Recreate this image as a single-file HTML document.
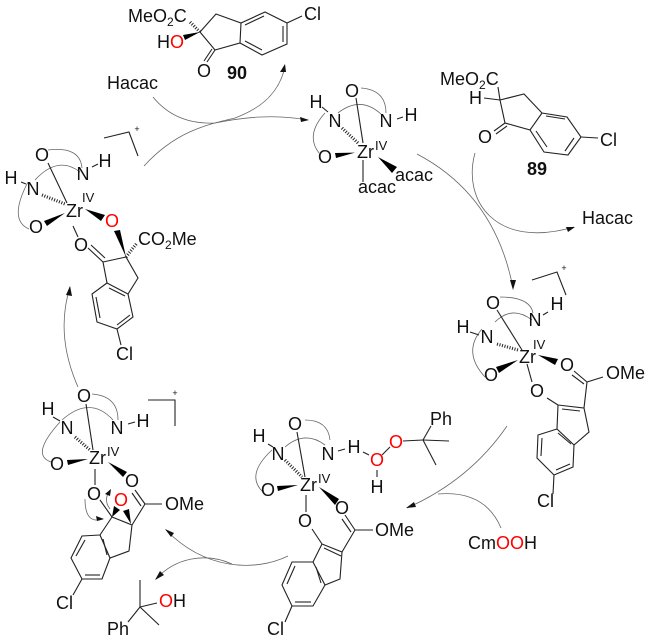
<!DOCTYPE html>
<html>
<head>
<meta charset="utf-8">
<style>
html,body{margin:0;padding:0;background:#fff}
svg{display:block}
text{font-family:"Liberation Sans",sans-serif;font-size:18px;fill:#111}
.m{text-anchor:middle}
.r{fill:#f00}
.b{font-weight:bold}
.s{font-size:12px}
.iv{font-size:13px}
.bd line,.bd polyline{stroke:#222;stroke-width:1.1;fill:none}
.bd line.h{stroke-width:3.2;stroke-dasharray:1 1.6}
.arc path{stroke:#666;stroke-width:.8;fill:none}
.ah{fill:#111;stroke:none}
</style>
</head>
<body>
<svg width="650" height="642" viewBox="0 0 650 642" xmlns="http://www.w3.org/2000/svg">

<!-- cycle arrows -->
<g class="arc">
<path d="M153,97 C170,118 193,124 215,123 C245,117 275,114 308,120"/>
<path d="M144,166 C175,132 205,125 235,118 C262,108 280,92 285,66"/>
<path d="M417,154 Q495,195 513,288"/>
<path d="M475,153 C462,200 495,250 574,227"/>
<path d="M507,426 Q470,480 407,508"/>
<path d="M501,528 Q485,490 438,494"/>
<path d="M288,556 C255,572 205,570 166,530"/>
<path d="M232,564 C205,552 175,558 156,579"/>
<path d="M78,387 Q55,335 70,287"/>
<!-- ligand arcs -->
<path d="M48,150 Q80,146 82,168"/>
<path d="M35,180 Q58,155 80,172"/>
<path d="M28,182 Q8,220 29,229"/>
<path d="M361,88 Q386,90 386,113"/>
<path d="M338,113 Q361,95 382,115"/>
<path d="M325,113 Q305,135 319,153"/>
<path d="M500,297 Q530,297 533,313"/>
<path d="M495,322 Q512,305 532,320"/>
<path d="M482,329 Q462,352 485,377"/>
<path d="M305,420 Q328,420 330,440"/>
<path d="M285,447 Q305,430 325,445"/>
<path d="M272,450 Q245,475 263,492"/>
<path d="M92,394 Q118,396 118,420"/>
<path d="M62,420 Q90,395 113,420"/>
<path d="M60,422 Q30,455 51,462"/>
<path d="M85,499 Q85,525 103,519"/>
<path d="M110,509 Q103,500 110,490"/>
</g>
<polygon class="ah" points="309,120 300,117 301,122"/>
<polygon class="ah" points="285,64 280,72 286,72"/>
<polygon class="ah" points="513,290 510,280 516,280"/>
<polygon class="ah" points="575,227 566,227 568,232"/>
<polygon class="ah" points="406,508 414,502 416,507"/>
<polygon class="ah" points="165,529 174,533 171,537"/>
<polygon class="ah" points="155,580 160,571 164,575"/>
<polygon class="ah" points="70,286 66,295 72,296"/>
<polygon class="ah" points="104,519 96,516 97,521"/>
<polygon class="ah" points="111,489 105,494 110,496"/>

<!-- wedges -->
<g fill="#000">
<polygon points="200,32 183,35 185,40"/>
<polygon points="65,213 44,221 47,226"/>
<polygon points="85,209 101,221 105,215"/>
<polygon points="126,257 114,231 120,230"/>
<polygon points="355,152.6 335,153 336,158"/>
<polygon points="378,157 392,173 397,167"/>
<polygon points="518,360 496,367 499,373"/>
<polygon points="538,355 555,365 558,359"/>
<polygon points="298,485 277,486 278,491"/>
<polygon points="319,487 335,505 339,499"/>
<polygon points="88,459 67,460 68,465"/>
<polygon points="108,462 123,477 127,472"/>
<polygon points="112,517 114,506 120,510"/>
<polygon points="131,524 123,511 129,509"/>
</g>

<g class="bd">
<!-- 90 -->
<polyline points="200,32 216,14 241,23 265,12 287,23 287,44 262,55 240,43 215,50 200,32"/>
<line x1="241" y1="23" x2="240" y2="43"/>
<line x1="245" y1="25" x2="264" y2="16"/>
<line x1="283" y1="26" x2="283" y2="42"/>
<line x1="245" y1="41" x2="262" y2="50"/>
<line x1="215" y1="50" x2="207" y2="62"/>
<line x1="212" y1="49" x2="204" y2="61"/>
<line x1="287" y1="23" x2="302" y2="16"/>
<line class="h" x1="200" y1="32" x2="190" y2="22"/>
<!-- 89 -->
<polyline points="500,100 524,94 542,113 567,117 581,137 568,155 544,152 530,130 505,123 500,100"/>
<line x1="542" y1="113" x2="530" y2="130"/>
<line x1="546" y1="116" x2="565" y2="119"/>
<line x1="574" y1="138" x2="565" y2="151"/>
<line x1="547" y1="147" x2="536" y2="131"/>
<line x1="505" y1="123" x2="494" y2="131"/>
<line x1="507" y1="126" x2="496" y2="134"/>
<line x1="581" y1="137" x2="598" y2="138"/>
<line x1="484" y1="98" x2="500" y2="100"/>
<line x1="500" y1="100" x2="498" y2="87"/>
<!-- top complex -->
<line x1="356" y1="98" x2="363" y2="143"/>
<line class="h" x1="342" y1="128" x2="358" y2="143"/>
<line x1="363" y1="160" x2="363" y2="182"/>
<line x1="397" y1="119" x2="403" y2="117"/>
<line x1="322" y1="107" x2="328" y2="112"/>
<!-- left top complex -->
<line x1="48" y1="163" x2="67" y2="203"/>
<line class="h" x1="42" y1="195" x2="65" y2="204"/>
<line x1="73" y1="226" x2="78" y2="237"/>
<line x1="92" y1="167" x2="98" y2="164"/>
<line x1="21" y1="182" x2="26" y2="184"/>
<line x1="103" y1="262" x2="126" y2="257"/>
<line class="h" x1="126" y1="257" x2="137" y2="243"/>
<polyline points="126,257 138,278 128,294 107,283 103,262"/>
<polyline points="107,283 92,294 97,322 117,329 133,317 128,294"/>
<line x1="109" y1="288" x2="125" y2="296"/>
<line x1="96" y1="297" x2="100" y2="318"/>
<line x1="117" y1="325" x2="130" y2="315"/>
<line x1="88" y1="248" x2="103" y2="262"/>
<line x1="91" y1="245" x2="105" y2="258"/>
<line x1="117" y1="329" x2="121" y2="345"/>
<!-- right complex -->
<line x1="497" y1="310" x2="522" y2="350"/>
<line class="h" x1="497" y1="344" x2="518" y2="350"/>
<line x1="527" y1="364" x2="532" y2="382"/>
<line x1="470" y1="332" x2="479" y2="335"/>
<line x1="543" y1="315" x2="548" y2="312"/>
<line x1="547" y1="398" x2="558" y2="405"/>
<polyline points="558,405 584,408 587,382"/>
<line x1="562" y1="409" x2="580" y2="411"/>
<line x1="587" y1="382" x2="603" y2="377"/>
<line x1="587" y1="382" x2="574" y2="371"/>
<line x1="584" y1="384" x2="572" y2="375"/>
<polyline points="584,408 589,432 574,445 557,429 558,405"/>
<polyline points="557,429 538,435 537,458 554,475 573,467 574,445"/>
<line x1="558" y1="433" x2="571" y2="444"/>
<line x1="542" y1="438" x2="541" y2="456"/>
<line x1="556" y1="470" x2="570" y2="464"/>
<line x1="554" y1="475" x2="553" y2="494"/>
<!-- bottom middle complex -->
<line x1="297" y1="432" x2="305" y2="477"/>
<line class="h" x1="285" y1="460" x2="302" y2="477"/>
<line x1="306" y1="495" x2="306" y2="512"/>
<line x1="268" y1="444" x2="273" y2="447"/>
<line x1="338" y1="451" x2="345" y2="449"/>
<line x1="363" y1="452" x2="369" y2="455"/>
<line x1="382" y1="455" x2="390" y2="447"/>
<line x1="377" y1="470" x2="377" y2="477"/>
<line x1="403" y1="441" x2="423" y2="440"/>
<line x1="423" y1="440" x2="431" y2="426"/>
<line x1="423" y1="440" x2="449" y2="441"/>
<line x1="423" y1="440" x2="436" y2="465"/>
<line x1="312" y1="529" x2="322" y2="544"/>
<line x1="322" y1="544" x2="342" y2="552"/>
<line x1="324" y1="548" x2="341" y2="556"/>
<polyline points="342,552 355,530 373,530"/>
<line x1="355" y1="530" x2="345" y2="515"/>
<line x1="351" y1="532" x2="342" y2="519"/>
<polyline points="342,552 340,579 325,585 313,562 322,544"/>
<polyline points="313,562 292,562 282,585 292,606 313,606 325,585"/>
<line x1="316" y1="567" x2="321" y2="583"/>
<line x1="295" y1="566" x2="287" y2="584"/>
<line x1="295" y1="602" x2="311" y2="602"/>
<line x1="292" y1="606" x2="285" y2="622"/>
<!-- bottom left complex -->
<line x1="86" y1="404" x2="93" y2="450"/>
<line class="h" x1="75" y1="437" x2="90" y2="450"/>
<line x1="95" y1="469" x2="95" y2="485"/>
<line x1="53" y1="417" x2="60" y2="421"/>
<line x1="128" y1="424" x2="135" y2="422"/>
<line x1="100" y1="500" x2="112" y2="517"/>
<line x1="112" y1="517" x2="132" y2="525"/>
<polyline points="132,525 145,504 162,504"/>
<line x1="145" y1="504" x2="135" y2="490"/>
<line x1="141" y1="506" x2="132" y2="493"/>
<polyline points="132,525 129,551 110,558 100,535 112,517"/>
<polyline points="100,535 82,536 71,558 82,579 102,579 110,558"/>
<line x1="103" y1="539" x2="107" y2="555"/>
<line x1="85" y1="540" x2="76" y2="556"/>
<line x1="85" y1="575" x2="100" y2="575"/>
<line x1="82" y1="579" x2="73" y2="595"/>
<!-- cumyl alcohol -->
<line x1="140" y1="607" x2="140" y2="580"/>
<line x1="140" y1="607" x2="157" y2="603"/>
<line x1="140" y1="607" x2="159" y2="625"/>
<line x1="140" y1="607" x2="128" y2="622"/>
<!-- brackets -->
<polyline points="104,138 129,132 138,156"/>
<polyline points="532,280 557,272 566,295"/>
<polyline points="148,400 175,400 175,426"/>
</g>

<!-- labels: 90 -->
<text x="128" y="22">MeO<tspan class="s" dy="4">2</tspan><tspan dy="-4">C</tspan></text>
<text x="157" y="48">H<tspan class="r">O</tspan></text>
<text x="204" y="77" class="m">O</text>
<text x="304" y="20">Cl</text>
<text x="227" y="79" class="b">90</text>
<text x="107" y="89">Hacac</text>

<!-- top left complex -->
<text x="42" y="161" class="m">O</text>
<text x="83" y="180" class="m">N</text>
<text x="105" y="167" class="m">H</text>
<text x="33" y="195" class="m">N</text>
<text x="11" y="184" class="m">H</text>
<text x="66" y="217">Zr</text>
<text x="82" y="202" class="iv">IV</text>
<text x="36" y="233" class="m">O</text>
<text x="112" y="227" class="m r">O</text>
<text x="81" y="251" class="m">O</text>
<text x="138" y="245">CO<tspan class="s" dy="4">2</tspan><tspan dy="-4">Me</tspan></text>
<text x="116" y="360">Cl</text>
<text x="137" y="132" class="m" style="font-size:9px">+</text>

<!-- top complex -->
<text x="352" y="97" class="m">O</text>
<text x="386" y="127" class="m">N</text>
<text x="411" y="121" class="m">H</text>
<text x="335" y="127" class="m">N</text>
<text x="316" y="108" class="m">H</text>
<text x="325" y="163" class="m">O</text>
<text x="357" y="158">Zr</text>
<text x="375" y="150" class="iv">IV</text>
<text x="358" y="193">acac</text>
<text x="395" y="181">acac</text>

<!-- 89 -->
<text x="440" y="85">MeO<tspan class="s" dy="4">2</tspan><tspan dy="-4">C</tspan></text>
<text x="469" y="104">H</text>
<text x="485" y="143" class="m">O</text>
<text x="600" y="146">Cl</text>
<text x="527" y="175" class="b">89</text>
<text x="582" y="224">Hacac</text>

<!-- right complex -->
<text x="564" y="271" class="m" style="font-size:9px">+</text>
<text x="493" y="309" class="m">O</text>
<text x="535" y="326" class="m">N</text>
<text x="557" y="310" class="m">H</text>
<text x="463" y="333" class="m">H</text>
<text x="487" y="343" class="m">N</text>
<text x="519" y="363">Zr</text>
<text x="533" y="349" class="iv">IV</text>
<text x="491" y="381" class="m">O</text>
<text x="567" y="371" class="m">O</text>
<text x="537" y="397" class="m">O</text>
<text x="606" y="379">OMe</text>
<text x="537" y="507">Cl</text>

<!-- bottom middle complex -->
<text x="295" y="430" class="m">O</text>
<text x="259" y="442" class="m">H</text>
<text x="278" y="460" class="m">N</text>
<text x="328" y="460" class="m">N</text>
<text x="354" y="453" class="m">H</text>
<text x="300" y="491">Zr</text>
<text x="318" y="483" class="iv">IV</text>
<text x="268" y="496" class="m">O</text>
<text x="305" y="527" class="m">O</text>
<text x="342" y="514" class="m">O</text>
<text x="375" y="536">OMe</text>
<text x="267" y="635">Cl</text>
<text x="377" y="466" class="m r">O</text>
<text x="396" y="448" class="m r">O</text>
<text x="377" y="493" class="m">H</text>
<text x="430" y="425">Ph</text>
<text x="468" y="549">Cm<tspan class="r">OO</tspan>H</text>

<!-- bottom left complex -->
<text x="84" y="402" class="m">O</text>
<text x="48" y="415" class="m">H</text>
<text x="67" y="434" class="m">N</text>
<text x="117" y="434" class="m">N</text>
<text x="143" y="427" class="m">H</text>
<text x="175" y="396" class="m" style="font-size:9px">+</text>
<text x="89" y="464">Zr</text>
<text x="107" y="456" class="iv">IV</text>
<text x="57" y="470" class="m">O</text>
<text x="94" y="500" class="m">O</text>
<text x="132" y="487" class="m">O</text>
<text x="121" y="506" class="m r">O</text>
<text x="165" y="510">OMe</text>
<text x="56" y="609">Cl</text>
<text x="159" y="607"><tspan class="r">O</tspan>H</text>
<text x="107" y="635">Ph</text>
</svg>
</body>
</html>
